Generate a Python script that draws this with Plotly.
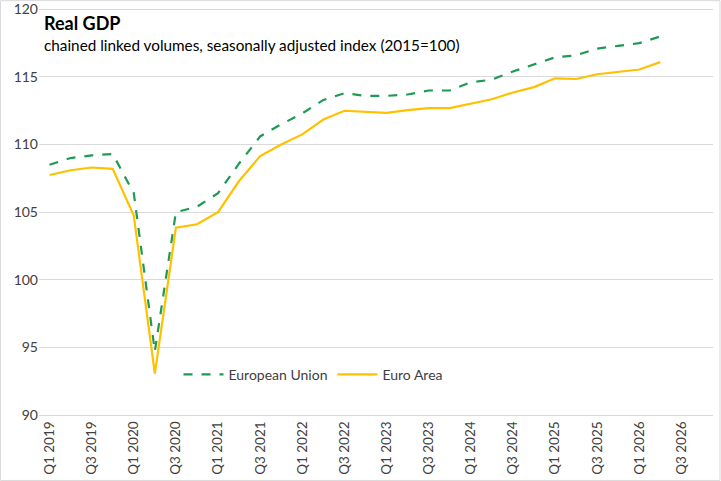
import plotly.graph_objects as go

# quarterly categories on the axis (Q1 2019 .. Q4 2026)
quarters = [f"Q{q} {y}" for y in range(2019, 2027) for q in range(1, 5)]

# index values, Q1 2019 .. Q2 2026
eu = [108.5, 109.0, 109.2, 109.3, 106.4, 94.7, 105.0, 105.4,
      106.4, 108.6, 110.6, 111.5, 112.3, 113.3, 113.8, 113.6,
      113.6, 113.7, 114.0, 114.0, 114.6, 114.8, 115.4, 115.9,
      116.45, 116.6, 117.1, 117.3, 117.5, 118.0]
ea = [107.75, 108.1, 108.3, 108.2, 104.75, 93.05, 103.85, 104.1,
      105.0, 107.3, 109.15, 110.0, 110.75, 111.85, 112.5, 112.45,
      112.35, 112.55, 112.7, 112.7, 113.05, 113.35, 113.85, 114.25,
      114.9, 114.85, 115.2, 115.4, 115.55, 116.1]

tick_vals = quarters[::2]
y_ticks = [90, 95, 100, 105, 110, 115, 120]

FONT = "Lato, Open Sans, sans-serif"

fig = go.Figure()
fig.add_trace(go.Scatter(
    x=quarters[:len(eu)], y=eu, mode="lines", name="European Union",
    line=dict(color="#1E9A52", width=2.2, dash="dash"),
))
fig.add_trace(go.Scatter(
    x=quarters[:len(ea)], y=ea, mode="lines", name="Euro Area",
    line=dict(color="#FFC000", width=2.2),
))

fig.update_layout(
    width=721, height=481,
    margin=dict(l=39, r=8, t=6, b=66),
    paper_bgcolor="white", plot_bgcolor="white",
    font=dict(family=FONT, size=14, color="#404040"),
    showlegend=True,
    legend=dict(orientation="h", x=0.207, y=0.0985, xanchor="left", yanchor="middle",
                font=dict(size=14, color="#404040"), bgcolor="rgba(0,0,0,0)",
                itemwidth=40, tracegroupgap=0),
    annotations=[
        dict(text="<b>Real GDP</b>", xref="paper", yref="paper", x=0.005, y=0.958,
             xanchor="left", yanchor="middle", showarrow=False,
             font=dict(size=18, color="#000000", family=FONT)),
        dict(text="chained linked volumes, seasonally adjusted index (2015=100)",
             xref="paper", yref="paper", x=0.005, y=0.904,
             xanchor="left", yanchor="middle", showarrow=False,
             font=dict(size=15.3, color="#000000", family=FONT)),
    ],
    shapes=[dict(type="rect", xref="paper", yref="paper",
                 x0=-0.0571, x1=1.0104, y0=-0.160, y1=1.013,
                 line=dict(color="#d9d9d9", width=1))],
)

fig.update_xaxes(
    type="category", categoryorder="array", categoryarray=quarters,
    range=[-0.5, len(quarters) - 0.5], automargin=False,
    tickmode="array", tickvals=tick_vals, ticktext=tick_vals,
    tickangle=-90, showgrid=False, showline=True, linecolor="#d9d9d9",
    ticks="", tickfont=dict(size=13.5, color="#404040"),
)
fig.update_yaxes(
    range=[89.99, 120.25], tickvals=y_ticks, showgrid=True, gridcolor="#d9d9d9",
    automargin=False, zeroline=False, showline=False, ticks="",
    tickfont=dict(size=14, color="#404040"),
)

# drop the browser's default body margin so the figure sits at the page corner
fig.write_html("out.html", config={"displayModeBar": False},
               post_script="document.body.style.margin='0';")
